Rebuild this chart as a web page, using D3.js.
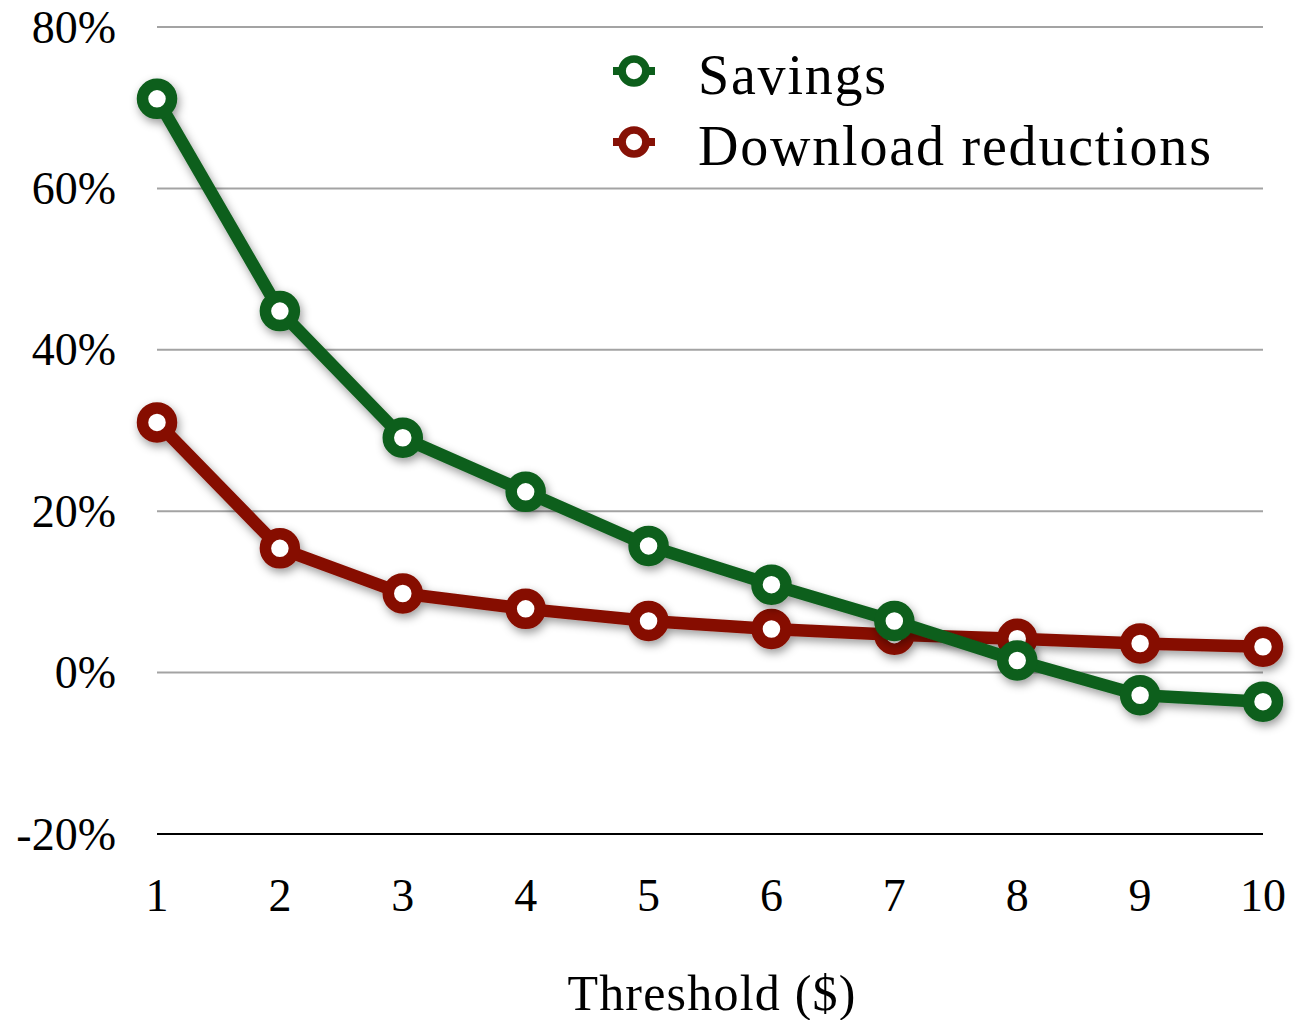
<!DOCTYPE html>
<html><head><meta charset="utf-8">
<script src="https://cdn.jsdelivr.net/npm/d3@7"></script>
<style>
html,body{margin:0;padding:0;background:#fff;}
text{font-family:"Liberation Serif","DejaVu Serif",serif;fill:#000;}
</style></head>
<body><svg id="chart" width="1295" height="1020"></svg>
<script>
const thresholds = [1,2,3,4,5,6,7,8,9,10];
const savings = [71.1,44.8,29.1,22.4,15.7,10.9,6.4,1.5,-2.8,-3.6];
const downloadReductions = [31.0,15.4,9.8,7.9,6.4,5.4,4.7,4.2,3.6,3.2];
const yTicks = [-20,0,20,40,60,80];
const seriesNames = ["Savings","Download reductions"];
const seriesColors = ["#0c5e1b","#861106"];

const svg = d3.select("#chart");
const x = d3.scaleLinear().domain([1,10]).range([157,1263]);
const y = d3.scaleLinear().domain([-20,80]).range([834,27]);

const defs = svg.append("defs");
const f = defs.append("filter").attr("id","shadow").attr("x","-20%").attr("y","-20%").attr("width","140%").attr("height","140%");
f.append("feDropShadow").attr("dx",2).attr("dy",4).attr("stdDeviation",5).attr("flood-color","#000").attr("flood-opacity",0.4);

// grid
svg.append("g").selectAll("line").data(yTicks).join("line")
  .attr("x1",157).attr("x2",1263)
  .attr("y1",d=>y(d)).attr("y2",d=>y(d))
  .attr("stroke",d=>d===-20?"#000":"#a3a3a3").attr("stroke-width",2);

// y labels
svg.append("g").selectAll("text").data(yTicks).join("text")
  .attr("x",116).attr("y",d=>y(d)).attr("dy","0.34em")
  .attr("text-anchor","end").attr("font-size",46)
  .text(d=>d+"%");

// x labels
svg.append("g").selectAll("text").data(thresholds).join("text")
  .attr("x",d=>x(d)).attr("y",911)
  .attr("text-anchor","middle").attr("font-size",46)
  .text(d=>d);

svg.append("text").attr("x",712).attr("y",1010).attr("text-anchor","middle")
  .attr("font-size",50).attr("letter-spacing",1.2).text("Threshold ($)");

const series = [downloadReductions, savings];
const colors = [seriesColors[1], seriesColors[0]];
const line = d3.line().x((d,i)=>x(thresholds[i])).y(d=>y(d));

series.forEach((s,k)=>{
  const g = svg.append("g").attr("filter","url(#shadow)");
  g.append("path").datum(s).attr("d",line).attr("fill","none")
    .attr("stroke",colors[k]).attr("stroke-width",12.5).attr("stroke-linejoin","round");
  g.selectAll("circle").data(s).join("circle")
    .attr("cx",(d,i)=>x(thresholds[i])).attr("cy",d=>y(d)).attr("r",14.5)
    .attr("fill","#fff").attr("stroke",colors[k]).attr("stroke-width",11.5);
});

// legend
const leg = svg.append("g");
seriesNames.forEach((name,i)=>{
  const cy = 71 + i*71;
  leg.append("line").attr("x1",613).attr("x2",655).attr("y1",cy).attr("y2",cy)
    .attr("stroke",seriesColors[i]).attr("stroke-width",8);
  leg.append("circle").attr("cx",634).attr("cy",cy).attr("r",12)
    .attr("fill","#fff").attr("stroke",seriesColors[i]).attr("stroke-width",7.7);
  leg.append("text").attr("x",698).attr("y",cy+3).attr("dy","0.36em")
    .attr("font-size",56).attr("letter-spacing",1.8).text(name);
});
</script></body></html>
